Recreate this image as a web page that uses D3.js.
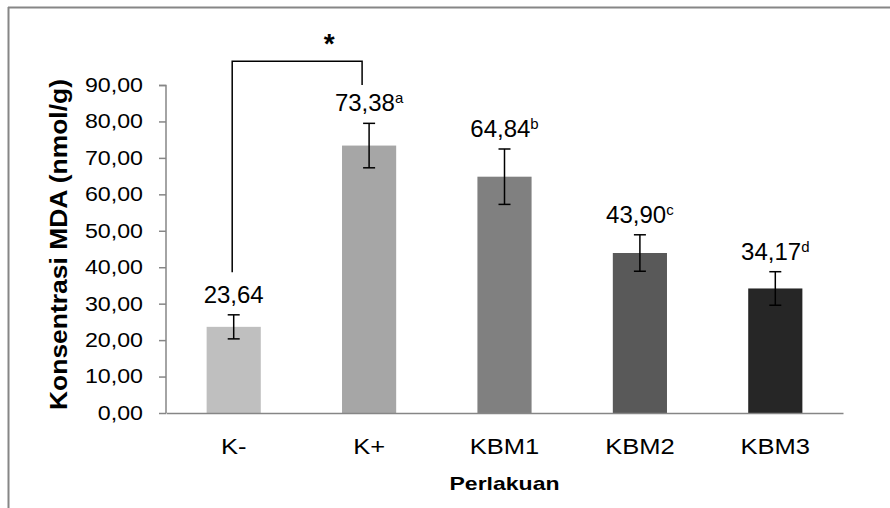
<!DOCTYPE html>
<html>
<head>
<meta charset="utf-8">
<script src="https://cdn.jsdelivr.net/npm/d3@7"></script>
<style>
  body { margin: 0; background: #fff; }
  text { font-family: "Liberation Sans", Arial, sans-serif; fill: #000; }
</style>
</head>
<body>
<div id="chart"></div>
<script>
var svgWidth = 890;
var svgHeight = 508;
var margin = { top: 85, right: 47, bottom: 95, left: 166 };

// data
var categories = ["K-", "K+", "KBM1", "KBM2", "KBM3"];
var means = [23.64, 73.38, 64.84, 43.90, 34.17];
var errors = [3.3, 6.1, 7.6, 5.0, 4.6];
var letters = ["", "a", "b", "c", "d"];
var barColors = ["#bfbfbf", "#a6a6a6", "#808080", "#595959", "#262626"];
var yTicks = [0, 10, 20, 30, 40, 50, 60, 70, 80, 90];

var width = svgWidth - margin.left - margin.right;
var height = 413 - margin.top;

// the original figure is a bit wider than tall, so axis text is stretched sideways
var stretchX = 1.16;
function stretch(sel, k) {
  sel.each(function() {
    var len = this.getComputedTextLength();
    d3.select(this)
      .attr("textLength", len * k)
      .attr("lengthAdjust", "spacingAndGlyphs");
  });
}

var svg = d3.select("#chart")
  .append("svg")
  .attr("width", svgWidth)
  .attr("height", svgHeight);

// outer frame (top and left only visible)
svg.append("line").attr("x1", 8).attr("x2", svgWidth).attr("y1", 7.5).attr("y2", 7.5)
  .attr("stroke", "#868686").attr("stroke-width", 2);
svg.append("line").attr("x1", 8.5).attr("x2", 8.5).attr("y1", 7).attr("y2", svgHeight)
  .attr("stroke", "#868686").attr("stroke-width", 2);

var chartGroup = svg.append("g")
  .attr("transform", `translate(${margin.left}, ${margin.top})`);

var xScale = d3.scaleBand()
  .domain(categories)
  .range([0, width])
  .paddingInner(0.6)
  .paddingOuter(0.3);

var yScale = d3.scaleLinear()
  .domain([0, 90])
  .range([height, 0]);

var fmt = d => d3.format(".2f")(d).replace(".", ",");

// y axis
var leftAxis = d3.axisLeft(yScale).tickValues(yTicks).tickSize(7).tickPadding(16).tickFormat(fmt);
var yAxisG = chartGroup.append("g").call(leftAxis);
yAxisG.select(".domain").attr("stroke", "#868686").attr("stroke-width", 1.5).attr("d", `M-7,0.5H0V${height}`);
yAxisG.selectAll(".tick line").attr("stroke", "#868686").attr("stroke-width", 1.5);
yAxisG.selectAll(".tick text").attr("font-size", "20px").attr("font-family", "Liberation Sans, Arial, sans-serif").attr("fill", "#000")
  .call(stretch, stretchX);

// bars
chartGroup.selectAll(".bar")
  .data(means)
  .enter()
  .append("rect")
  .attr("class", "bar")
  .attr("x", (d, i) => xScale(categories[i]))
  .attr("y", d => yScale(d))
  .attr("width", xScale.bandwidth())
  .attr("height", d => height - yScale(d))
  .attr("fill", (d, i) => barColors[i]);

// x axis (drawn after bars so the line sits on top)
var bottomAxis = d3.axisBottom(xScale).tickSize(0).tickPadding(25);
var xAxisG = chartGroup.append("g")
  .attr("transform", `translate(0, ${height})`)
  .call(bottomAxis);
xAxisG.select(".domain").attr("stroke", "#868686").attr("stroke-width", 1.5);
xAxisG.selectAll(".tick text").attr("font-size", "22px").attr("font-family", "Liberation Sans, Arial, sans-serif").attr("fill", "#000")
  .call(stretch, stretchX);

// error bars
var cx = (d, i) => xScale(categories[i]) + xScale.bandwidth() / 2;
var errG = chartGroup.selectAll(".err")
  .data(means)
  .enter()
  .append("g")
  .attr("class", "err")
  .attr("stroke", "#000")
  .attr("stroke-width", 1.5);
errG.append("line")
  .attr("x1", cx).attr("x2", cx)
  .attr("y1", (d, i) => yScale(d + errors[i]))
  .attr("y2", (d, i) => yScale(d - errors[i]));
errG.append("line")
  .attr("x1", (d, i) => cx(d, i) - 6).attr("x2", (d, i) => cx(d, i) + 6)
  .attr("y1", (d, i) => yScale(d + errors[i]))
  .attr("y2", (d, i) => yScale(d + errors[i]));
errG.append("line")
  .attr("x1", (d, i) => cx(d, i) - 6).attr("x2", (d, i) => cx(d, i) + 6)
  .attr("y1", (d, i) => yScale(d - errors[i]))
  .attr("y2", (d, i) => yScale(d - errors[i]));

// data labels
var labels = chartGroup.selectAll(".dlabel")
  .data(means)
  .enter()
  .append("text")
  .attr("class", "dlabel")
  .attr("x", cx)
  .attr("y", (d, i) => yScale(d + errors[i]) - 12)
  .attr("text-anchor", "middle")
  .attr("font-size", "24px");
labels.append("tspan").text(d => fmt(d));
labels.append("tspan")
  .attr("font-size", "15px")
  .attr("dy", -8)
  .text((d, i) => letters[i]);

// significance bracket between K- and K+
var bx1 = cx(0, 0) - 1.5;
var bx2 = cx(0, 1) - 7;
var bTop = yScale(96.5);
chartGroup.append("path")
  .attr("d", `M${bx1},${yScale(38.6)}V${bTop}H${bx2}V${yScale(90)}`)
  .attr("fill", "none")
  .attr("stroke", "#000")
  .attr("stroke-width", 1.5);
chartGroup.append("text")
  .attr("x", (bx1 + bx2) / 2 + 32)
  .attr("y", bTop - 8)
  .attr("text-anchor", "middle")
  .attr("font-size", "28px")
  .attr("font-weight", "bold")
  .text("*");

// axis titles
chartGroup.append("text")
  .attr("transform", `translate(${-margin.left + 67}, ${(79 + 410) / 2 - margin.top}) rotate(-90)`)
  .attr("text-anchor", "middle")
  .attr("font-size", "23px")
  .attr("font-weight", "bold")
  .attr("textLength", 331)
  .attr("lengthAdjust", "spacingAndGlyphs")
  .text("Konsentrasi MDA (nmol/g)");
chartGroup.append("text")
  .attr("x", width / 2)
  .attr("y", height + 77)
  .attr("text-anchor", "middle")
  .attr("font-size", "19px")
  .attr("font-weight", "bold")
  .attr("textLength", 110)
  .attr("lengthAdjust", "spacingAndGlyphs")
  .text("Perlakuan");
</script>
</body>
</html>
